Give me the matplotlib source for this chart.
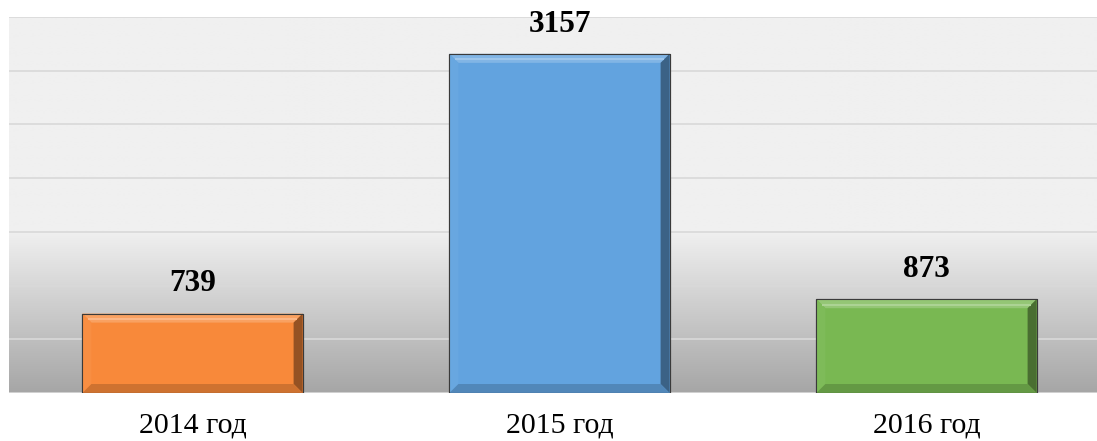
import numpy as np
import matplotlib
matplotlib.use("Agg")
import matplotlib.pyplot as plt
from matplotlib.patches import Polygon
from matplotlib.colors import to_rgb

categories = ["2014 год", "2015 год", "2016 год"]
values = [739, 3157, 873]
colors = ["#F8893A", "#62A3DF", "#79B852"]

W, H, DPI = 1097, 441, 100
fig = plt.figure(figsize=(W / DPI, H / DPI), dpi=DPI)
fig.patch.set_facecolor("white")

left_px, right_px, top_px, bottom_px = 9, 1097, 17, 393
ax = fig.add_axes([left_px / W, 1 - bottom_px / H, (right_px - left_px) / W, (bottom_px - top_px) / H])

ymax = 3500
step = 367.0
xl = -(192.5 - left_px) / step
xr = (right_px - 192.5) / step
ax.set_xlim(xl, xr)
ax.set_ylim(0, ymax)

# background gradient
n = 400
frac = np.linspace(1, 0, n)  # top to bottom
c_top = np.array(to_rgb("#F0F0F0"))
c_bot = np.array(to_rgb("#A6A6A6"))
start = 1500 / ymax
t = np.clip((start - frac) / start, 0, 1)[:, None]
grad = c_top * (1 - t) + c_bot * t
img = np.repeat(grad[:, None, :], 2, axis=1)
ax.imshow(img, extent=[0, 1, 0, 1], transform=ax.transAxes, aspect="auto", zorder=0, interpolation="bilinear")

for v in np.arange(0, ymax + 1, 500):
    ax.axhline(v, color="#D9D9D9", lw=1.2, zorder=1)

x = np.arange(len(categories))
bars = ax.bar(x, values, width=0.6, color=colors, edgecolor="#3a3a3a", linewidth=0.8, zorder=2)

fig.canvas.draw()
inv = ax.transData.inverted()
b = 9.0


def shade(c, f):
    c = np.array(to_rgb(c))
    if f >= 0:
        return tuple(c + (1 - c) * f)
    return tuple(c * (1 + f))


for bar, col in zip(bars, colors):
    bb = bar.get_window_extent()
    x0, y0, x1, y1 = bb.x0, bb.y0, bb.x1, bb.y1
    polys = [
        ([(x0, y1), (x1, y1), (x1 - b, y1 - b), (x0 + b, y1 - b)], shade(col, 0.2)),
        ([(x0, y1), (x0 + b, y1 - b), (x0 + b, y0 + b), (x0, y0)], shade(col, 0.04)),
        ([(x1, y1), (x1, y0), (x1 - b, y0 + b), (x1 - b, y1 - b)], shade(col, -0.4)),
        ([(x0, y0), (x1, y0), (x1 - b, y0 + b), (x0 + b, y0 + b)], shade(col, -0.17)),
    ]
    for pts, fc in polys:
        dpts = inv.transform(pts)
        ax.add_patch(Polygon(dpts, closed=True, facecolor=fc, edgecolor="none", zorder=3))
    hl = inv.transform([(x0 + b * 0.6, y1 - b * 0.6), (x1 - b * 0.6, y1 - b * 0.6)])
    ax.plot(hl[:, 0], hl[:, 1], color=shade(col, 0.38), lw=1.5, zorder=3.5, solid_capstyle="butt")
    ax.add_patch(Polygon(inv.transform([(x0, y0), (x1, y0), (x1, y1), (x0, y1)]), closed=True,
                         facecolor="none", edgecolor="#3a3a3a", lw=0.8, zorder=4))

for xi, v in zip(x, values):
    ax.annotate(str(v), (xi, v), xytext=(0, 11), textcoords="offset points", ha="center", va="bottom",
                fontsize=22.5, fontweight="bold", family=["Liberation Serif", "DejaVu Serif"], color="black",
                annotation_clip=False)

ax.set_xticks(x)
ax.set_xticklabels(categories, fontsize=21.5, family=["Liberation Serif", "DejaVu Serif"])
ax.tick_params(axis="x", length=0, pad=14)
ax.set_yticks([])
for s in ax.spines.values():
    s.set_visible(False)

fig.savefig("out.png", dpi=DPI)
